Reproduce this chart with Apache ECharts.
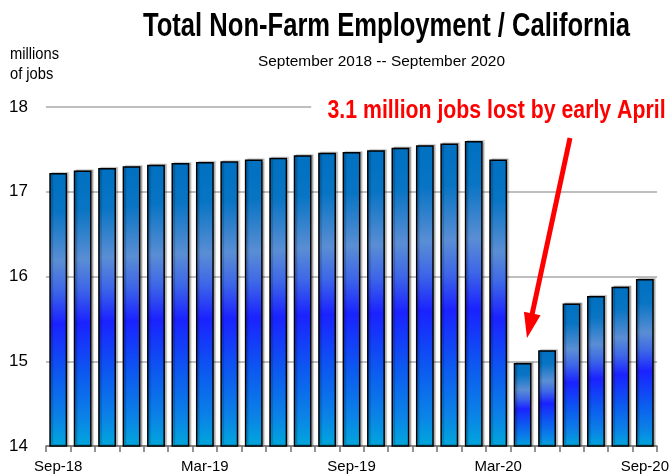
<!DOCTYPE html>
<html>
<head>
<meta charset="utf-8">
<script src="https://cdn.jsdelivr.net/npm/echarts@6/dist/echarts.min.js"></script>
<style>
  html, body { margin: 0; padding: 0; background: #fff; }
  #chart { width: 672px; height: 476px; }
</style>
</head>
<body>
<div id="chart"></div>
<script>
// Monthly categories, September 2018 through September 2020
const months = ['Sep-18', 'Oct-18', 'Nov-18', 'Dec-18', 'Jan-19', 'Feb-19', 'Mar-19', 'Apr-19', 'May-19',
  'Jun-19', 'Jul-19', 'Aug-19', 'Sep-19', 'Oct-19', 'Nov-19', 'Dec-19', 'Jan-20', 'Feb-20', 'Mar-20',
  'Apr-20', 'May-20', 'Jun-20', 'Jul-20', 'Aug-20', 'Sep-20'];

// Total non-farm employment, millions of jobs
const employment = [17.22, 17.25, 17.28, 17.30, 17.32, 17.34, 17.35, 17.36, 17.38, 17.40, 17.43, 17.46, 17.47,
  17.49, 17.52, 17.55, 17.57, 17.60, 17.38, 14.98, 15.13, 15.68, 15.77, 15.88, 15.97];

// Value axis range
const yMin = 14;
const yMax = 18;
const yStep = 1;

const titleText = 'Total Non-Farm Employment / California';
const subtitleText = 'September 2018 -- September 2020';
const unitLines = ['millions', 'of jobs'];
const noteText = '3.1 million jobs lost by early April';

const sans = '"Liberation Sans", Arial, sans-serif';

// Horizontal squeeze factor so a text run fills a given width (narrow-face look)
const measureCtx = document.createElement('canvas').getContext('2d');
function squeeze(text, weight, size, width) {
  measureCtx.font = weight + ' ' + size + 'px ' + sans;
  return width / measureCtx.measureText(text).width;
}

const barFill = new echarts.graphic.LinearGradient(0, 0, 0, 1, [
  { offset: 0.00, color: '#0070c0' },
  { offset: 0.14, color: '#0874c4' },
  { offset: 0.32, color: '#5a8ed4' },
  { offset: 0.43, color: '#3d66e8' },
  { offset: 0.55, color: '#1a22ff' },
  { offset: 0.74, color: '#0c5af0' },
  { offset: 0.90, color: '#0a84e6' },
  { offset: 1.00, color: '#00a8dc' }
]);

// Arrow geometry for the annotation
const arrowTail = [570, 138];
const arrowTip = [527, 338];
const headLen = 25, headHalf = 8.5;
const dx = arrowTip[0] - arrowTail[0], dy = arrowTip[1] - arrowTail[1];
const len = Math.hypot(dx, dy);
const ux = dx / len, uy = dy / len;
const base = [arrowTip[0] - ux * headLen, arrowTip[1] - uy * headLen];
const px = -uy, py = ux;

const titleScale = squeeze(titleText, 'bold', 33, 487);
const subScale = squeeze(subtitleText, 'normal', 15.5, 247);
const noteScale = squeeze(noteText, 'bold', 26, 338);
const unitScale = squeeze(unitLines[0], 'normal', 16, 49);

// Text placed by the top of its box
function label(text, x, y, size, weight, color, scale, align, extra) {
  return {
    type: 'text', x: x, y: y, scaleX: scale, z: 100,
    style: Object.assign({
      text: text, align: align, verticalAlign: 'top',
      fontFamily: sans, fontSize: size, fontWeight: weight, fill: color
    }, extra || {})
  };
}

const chart = echarts.init(document.getElementById('chart'));
chart.setOption({
  animation: false,
  backgroundColor: '#ffffff',
  grid: { left: 46, right: 13, top: 107, bottom: 30, containLabel: false },
  xAxis: {
    type: 'category',
    data: months,
    boundaryGap: true,
    axisLine: { show: true, lineStyle: { color: '#707070', width: 1.5 } },
    axisTick: { show: true, interval: 0, length: 6, lineStyle: { color: '#707070', width: 1.5 } },
    axisLabel: { interval: 5, color: '#000', fontFamily: sans, fontSize: 15, margin: 13 },
    splitLine: { show: false }
  },
  yAxis: {
    type: 'value',
    min: yMin, max: yMax, interval: yStep,
    axisLine: { show: false },
    axisTick: { show: false },
    axisLabel: { color: '#000', fontFamily: sans, fontSize: 17, margin: 18 },
    splitLine: { show: true, lineStyle: { color: '#a8a8a8', width: 1.5 } }
  },
  series: [{
    type: 'bar',
    data: employment,
    barCategoryGap: '27%',
    itemStyle: {
      color: barFill,
      borderColor: '#000',
      borderWidth: 1.5,
      shadowColor: 'rgba(0,0,0,0.22)',
      shadowBlur: 1,
      shadowOffsetX: 2,
      shadowOffsetY: -1
    }
  }],
  graphic: [
    label(titleText, 386.5, 10, 33, 'bold', '#000', titleScale, 'center'),
    label(subtitleText, 381.5, 53.5, 15.5, 'normal', '#000', subScale, 'center'),
    label(unitLines[0], 10, 47, 16, 'normal', '#000', unitScale, 'left'),
    label(unitLines[1], 10, 67, 16, 'normal', '#000', unitScale, 'left'),
    label(noteText, 490, 96, 26, 'bold', '#ff0000', noteScale, 'center',
      { backgroundColor: '#ffffff', padding: [2, 4, 2, 20] }),
    {
      type: 'line', z: 100,
      shape: { x1: arrowTail[0], y1: arrowTail[1], x2: base[0] + ux * 2, y2: base[1] + uy * 2 },
      style: { stroke: '#ff0000', lineWidth: 5 }
    },
    {
      type: 'polygon', z: 100,
      shape: {
        points: [
          arrowTip,
          [base[0] + px * headHalf, base[1] + py * headHalf],
          [base[0] - px * headHalf, base[1] - py * headHalf]
        ]
      },
      style: { fill: '#ff0000' }
    }
  ]
});
</script>
</body>
</html>
